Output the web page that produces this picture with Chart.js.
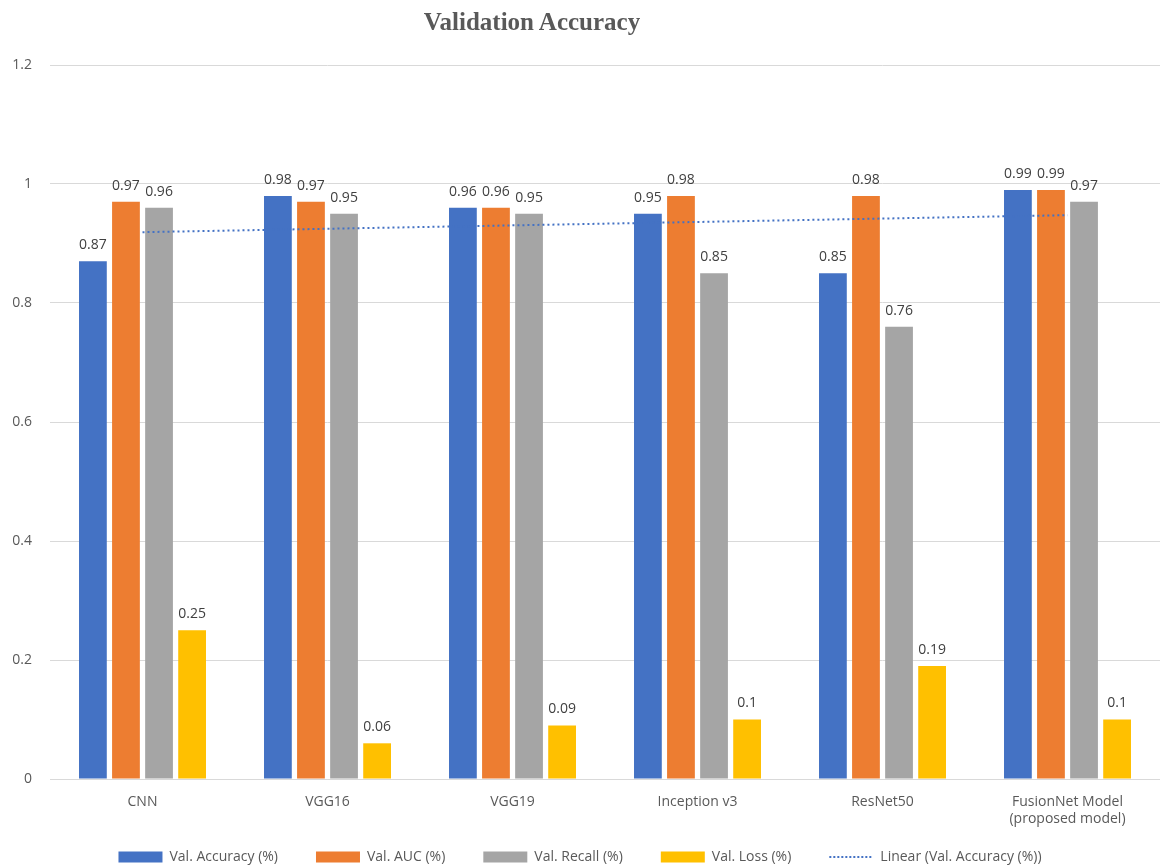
<!DOCTYPE html>
<html>
<head>
<meta charset="utf-8">
<script src="https://cdn.jsdelivr.net/npm/chart.js@4.4.1/dist/chart.umd.min.js"></script>
<style>
  html, body { margin: 0; padding: 0; background: #fff; }
  #wrap { position: relative; width: 1160px; height: 865px; }
  #title {
    position: absolute; left: 0; top: 8px; width: 1064px; text-align: center;
    font: bold 25px "Liberation Serif", "DejaVu Serif", serif; color: #595959;
  }
</style>
</head>
<body>
<div id="wrap">
  <div id="title">Validation Accuracy</div>
  <canvas id="myChart" width="1160" height="865"></canvas>
</div>
<script>
// model names along the x axis
var models = ["CNN", "VGG16", "VGG19", "Inception v3", "ResNet50", ["FusionNet Model", "(proposed model)"]];

// scores per model
var valAccuracy = [0.87, 0.98, 0.96, 0.95, 0.85, 0.99];
var valAuc = [0.97, 0.97, 0.96, 0.98, 0.98, 0.99];
var valRecall = [0.96, 0.95, 0.95, 0.85, 0.76, 0.97];
var valLoss = [0.25, 0.06, 0.09, 0.10, 0.19, 0.10];

var yTicks = [0, 0.2, 0.4, 0.6, 0.8, 1, 1.2];

// least squares line through the accuracy values (like a spreadsheet trendline)
function linearTrend(vals) {
  var n = vals.length, sx = 0, sy = 0, sxy = 0, sxx = 0;
  vals.forEach(function (v, i) {
    var x = i + 1;
    sx += x; sy += v; sxy += x * v; sxx += x * x;
  });
  var slope = (n * sxy - sx * sy) / (n * sxx - sx * sx);
  var icpt = (sy - slope * sx) / n;
  return vals.map(function (v, i) { return icpt + slope * (i + 1); });
}
var accTrend = linearTrend(valAccuracy);

var textColor = "#595959";
var gridColor = "#d9d9d9";
var font = "'Open Sans', 'Noto Sans', sans-serif";

// value labels above each bar
var barValues = {
  id: "barValues",
  afterDatasetsDraw: function (chart) {
    var ctx = chart.ctx;
    ctx.save();
    ctx.font = "14px " + font;
    ctx.fillStyle = "#404040";
    ctx.textAlign = "center";
    ctx.textBaseline = "bottom";
    chart.data.datasets.forEach(function (ds, i) {
      if (ds.type === "line") return;
      chart.getDatasetMeta(i).data.forEach(function (bar, j) {
        ctx.fillText(String(ds.data[j]), bar.x, bar.y - 9);
      });
    });
    ctx.restore();
  }
};

// the x axis is kept short so the legend sits close; let its two-line
// labels spill below it instead of being clipped
var tallXLabels = {
  id: "tallXLabels",
  afterLayout: function (chart) {
    chart.scales.x.bottom += 28;
  }
};

var ctx = document.getElementById("myChart").getContext("2d");
var myChart = new Chart(ctx, {
  type: "bar",
  data: {
    labels: models,
    datasets: [
      {
        type: "line",
        label: "Linear (Val. Accuracy (%))",
        data: accTrend,
        borderColor: "#4472c4",
        borderWidth: 2,
        borderDash: [2, 3],
        pointRadius: 0,
        fill: false,
        order: 0,
      },
      { label: "Val. Accuracy (%)", data: valAccuracy, backgroundColor: "#4472c4", order: 1 },
      { label: "Val. AUC (%)", data: valAuc, backgroundColor: "#ed7d31", order: 1 },
      { label: "Val. Recall (%)", data: valRecall, backgroundColor: "#a5a5a5", order: 1 },
      { label: "Val. Loss (%)", data: valLoss, backgroundColor: "#ffc000", order: 1 },
    ],
  },
  options: {
    responsive: false,
    animation: false,
    datasets: {
      bar: { categoryPercentage: 0.715, barPercentage: 0.84 },
    },
    layout: { padding: { top: 65, right: 0, bottom: -9, left: 0 } },
    plugins: {
      tooltip: { enabled: false },
      legend: {
        position: "bottom",
        labels: {
          color: textColor,
          font: { family: font, size: 14 },
          usePointStyle: true,
          pointStyleWidth: 44,
          boxHeight: 11,
          padding: 38,
          generateLabels: function (chart) {
            var order = [1, 2, 3, 4, 0];
            return order.map(function (i) {
              var ds = chart.data.datasets[i];
              if (ds.type === "line") {
                return {
                  text: ds.label, datasetIndex: i, pointStyle: "line",
                  fillStyle: ds.borderColor, strokeStyle: ds.borderColor,
                  lineWidth: 2, lineDash: [2, 2], fontColor: textColor,
                };
              }
              return {
                text: ds.label, datasetIndex: i, pointStyle: "rect",
                fillStyle: ds.backgroundColor, strokeStyle: ds.backgroundColor,
                lineWidth: 0, fontColor: textColor,
              };
            });
          },
        },
      },
    },
    scales: {
      x: {
        afterFit: function (scale) { scale.height = 33; },
        grid: { display: false, drawTicks: false },
        border: { color: gridColor, width: 1 },
        ticks: { color: textColor, font: { family: font, size: 14 }, padding: 15, maxRotation: 0 },
      },
      y: {
        min: 0,
        max: 1.2,
        afterBuildTicks: function (scale) {
          scale.ticks = yTicks.map(function (v) { return { value: v }; });
        },
        afterFit: function (scale) { scale.width = 50; },
        grid: { color: gridColor, drawTicks: false },
        border: { display: false },
        ticks: {
          color: textColor,
          font: { family: font, size: 14 },
          padding: 18,
          callback: function (v) { return String(+v.toFixed(1)); },
        },
      },
    },
  },
  plugins: [barValues, tallXLabels],
});
</script>
</body>
</html>
